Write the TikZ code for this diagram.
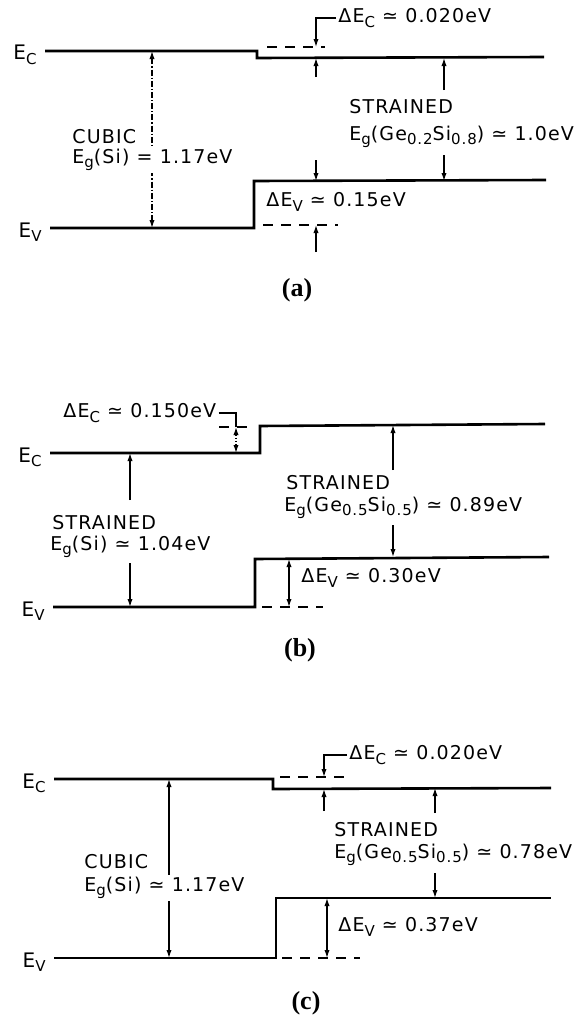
\documentclass[tikz,border=0pt]{standalone}
\usepackage{fontspec}
\setmainfont{DejaVu Sans}[LetterSpace=6]
\newfontfamily\capfont{Liberation Serif}
\usetikzlibrary{arrows.meta,positioning}

\newcommand{\lo}[1]{\raisebox{-0.4ex}{\fontsize{7.5}{8}\selectfont #1}}
\newcommand{\Ec}{E\lo{C}}
\newcommand{\Ev}{E\lo{V}}
\newcommand{\Eg}{E\lo{g}}

\begin{document}
\begin{tikzpicture}[x=0.5pt, y=-0.5pt,
    band/.style={line width=1.3pt},
    ref/.style={line width=0.6pt, dash pattern=on 5pt off 4pt},
    arrow/.style={-{Latex[length=4pt,width=2.6pt]}, line width=0.6pt},
    gap/.style={{Latex[length=4pt,width=2.6pt]}-{Latex[length=4pt,width=2.6pt]}, line width=0.6pt},
    lbl/.style={font=\fontsize{9.5}{11}\selectfont, inner sep=1pt, anchor=west},
    edge/.style={font=\fontsize{10}{11}\selectfont, inner sep=1pt, left=3pt},
    panel/.style={font=\capfont\bfseries\fontsize{13}{15}\selectfont}
]
\useasboundingbox (0,0) rectangle (581,1017);

\coordinate (aEcL) at (45,51);
\coordinate (aEcS) at (257,51);
\coordinate (aEcT) at (257,58);
\coordinate (aEcR) at (544,57);
\coordinate (aEvL) at (50,228);
\coordinate (aEvS) at (254,228);
\coordinate (aEvT) at (254,181);
\coordinate (aEvR) at (546,180);
\draw[band] (aEcL) -- (aEcS) -- (aEcT) -- (aEcR);
\draw[band] (aEvL) -- (aEvS) -- (aEvT) -- (aEvR);
\draw[ref] (267,47) -- (325,47);
\draw[ref] (263,225) -- (338,225);
\node[edge, yshift=-2pt] (aEc) at (aEcL) {\Ec};
\node[edge, yshift=-2pt] (aEv) at (aEvL) {\Ev};
\draw[gap, densely dash dot] (152,51) -- (152,228);
\node[lbl] (acub) at (70,137) {CUBIC};
\node[lbl, fill=white] (aeg) at (70,160) {\Eg(Si) = 1.17eV};
\node[lbl] (adEc) at (336,18) {ΔE\lo{C} ≃ 0.020eV};
\draw[arrow] (adEc.west) -| (316,47);
\draw[arrow] (316,77) -- (316,58);
\node[lbl] (adEv) at (264,202) {ΔE\lo{V} ≃ 0.15eV};
\draw[arrow] (316,160) -- (316,181);
\draw[arrow] (316,252) -- (316,225);
\node[lbl] (astr) at (347,107) {STRAINED};
\node[lbl] (aegs) at (347,137) {\Eg(Ge\lo{0.2}Si\lo{0.8}) ≃ 1.0eV};
\draw[arrow] (444,90) -- (444,58);
\draw[arrow] (444,155) -- (444,181);
\node[panel] (acap) at (297,290) {(a)};

\coordinate (bEcL) at (50,453);
\coordinate (bEcS) at (260,453);
\coordinate (bEcT) at (260,426);
\coordinate (bEcR) at (545,424);
\coordinate (bEvL) at (53,607);
\coordinate (bEvS) at (255,607);
\coordinate (bEvT) at (255,559);
\coordinate (bEvR) at (549,557);
\draw[band] (bEcL) -- (bEcS) -- (bEcT) -- (bEcR);
\draw[band] (bEvL) -- (bEvS) -- (bEvT) -- (bEvR);
\draw[ref] (219,427) -- (252,427);
\draw[ref] (262,607) -- (323,607);
\node[edge, yshift=-2pt] (bEc) at (bEcL) {\Ec};
\node[edge, yshift=-2pt] (bEv) at (bEvL) {\Ev};
\node[lbl] (bdEc) at (61,413) {ΔE\lo{C} ≃ 0.150eV};
\draw[line width=0.6pt] (bdEc.east) -| (236,427);
\draw[gap, densely dotted] (236,427) -- (236,453);
\node[lbl] (bstl) at (50,523) {STRAINED};
\node[lbl] (begl) at (48,547) {\Eg(Si) ≃ 1.04eV};
\draw[arrow] (130,500) -- (130,453);
\draw[arrow] (130,563) -- (130,607);
\node[lbl] (bdEv) at (299,578) {ΔE\lo{V} ≃ 0.30eV};
\draw[gap] (289,559) -- (289,607);
\node[lbl] (bstr) at (284,483) {STRAINED};
\node[lbl] (begr) at (282,508) {\Eg(Ge\lo{0.5}Si\lo{0.5}) ≃ 0.89eV};
\draw[arrow] (393,470) -- (393,425);
\draw[arrow] (393,525) -- (393,557);
\node[panel] (bcap) at (300,650) {(b)};

\coordinate (cEcL) at (54,779);
\coordinate (cEcS) at (273,779);
\coordinate (cEcT) at (273,789);
\coordinate (cEcR) at (551,788);
\coordinate (cEvL) at (54,958);
\coordinate (cEvS) at (276,958);
\coordinate (cEvT) at (276,898);
\coordinate (cEvR) at (551,898);
\draw[band] (cEcL) -- (cEcS) -- (cEcT) -- (cEcR);
\draw[band] (cEvL) -- (cEvS) -- (cEvT) -- (cEvR);
\draw[ref] (280,777) -- (351,777);
\draw[ref] (282,958) -- (360,958);
\node[edge, yshift=-2pt] (cEc) at (cEcL) {\Ec};
\node[edge, yshift=-2pt] (cEv) at (cEvL) {\Ev};
\draw[gap] (169,779) -- (169,958);
\node[lbl] (ccub) at (82,862) {CUBIC};
\node[lbl, fill=white] (ceg) at (82,888) {\Eg(Si) ≃ 1.17eV};
\node[lbl] (cdEc) at (347,755) {ΔE\lo{C} ≃ 0.020eV};
\draw[arrow] (cdEc.west) -| (324,777);
\draw[arrow] (324,811) -- (324,789);
\node[lbl] (cdEv) at (336,927) {ΔE\lo{V} ≃ 0.37eV};
\draw[gap] (327,898) -- (327,958);
\node[lbl] (cstr) at (332,830) {STRAINED};
\node[lbl] (cegs) at (332,855) {\Eg(Ge\lo{0.5}Si\lo{0.5}) ≃ 0.78eV};
\draw[arrow] (435,813) -- (435,788);
\draw[arrow] (435,873) -- (435,898);
\node[panel] (ccap) at (306,1003) {(c)};
\end{tikzpicture}
\end{document}
